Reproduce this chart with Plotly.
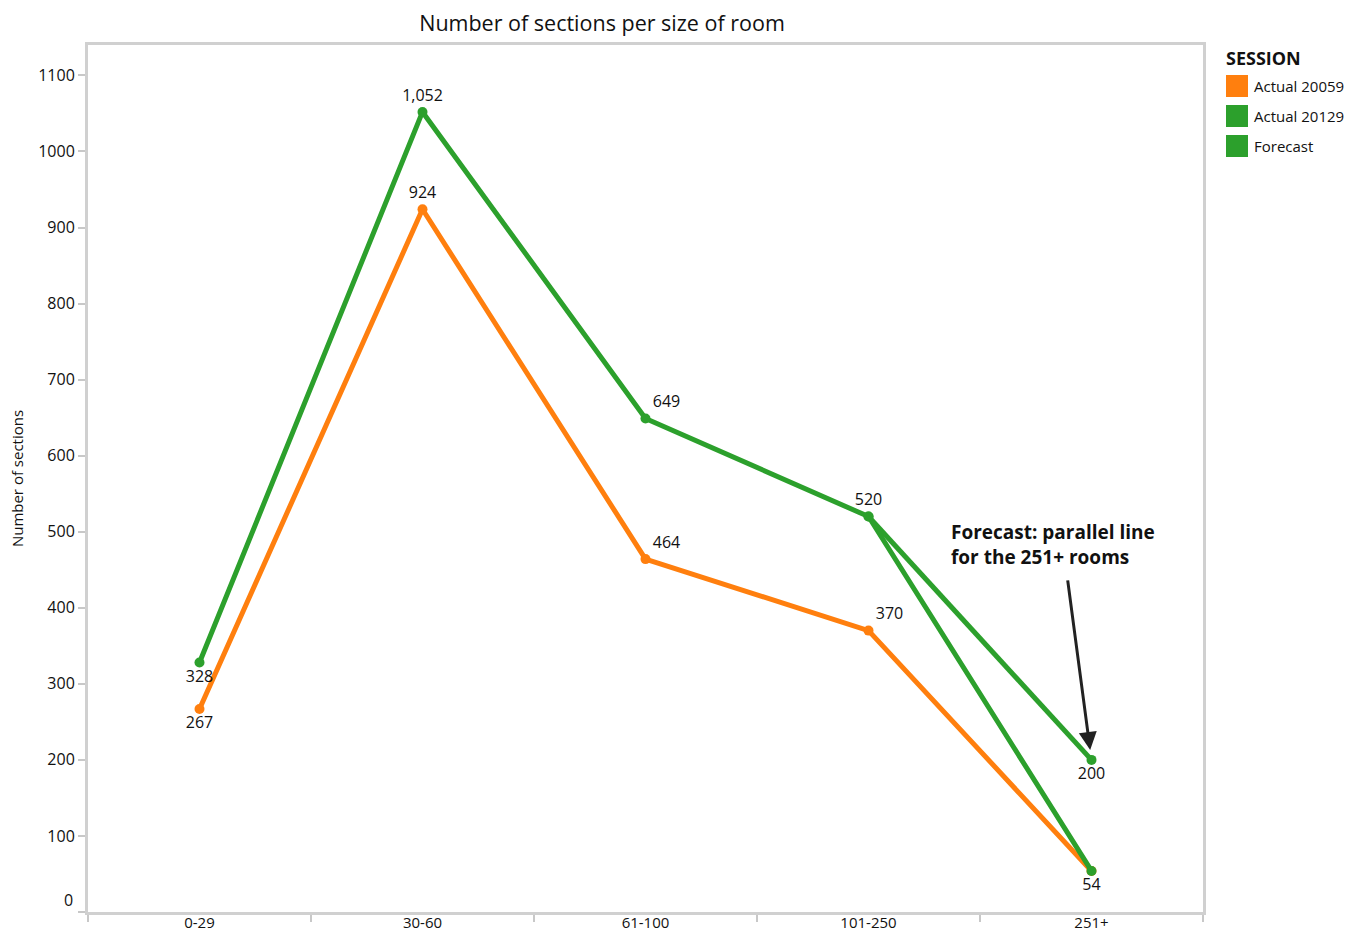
import plotly.graph_objects as go

# Room-size buckets and section counts per session
categories = ["0-29", "30-60", "61-100", "101-250", "251+"]
actual_20059 = [267, 924, 464, 370, 54]
actual_20129 = [328, 1052, 649, 520, 54]
forecast_categories = ["101-250", "251+"]
forecast_values = [520, 200]

y_ticks = list(range(0, 1101, 100))
legend_names = ["Actual 20059", "Actual 20129", "Forecast"]

ORANGE = "#ff7f0e"
GREEN = "#2ca02c"
legend_colors = [ORANGE, GREEN, GREEN]
FONT = "Open Sans, Noto Sans, sans-serif"

W, H = 1346, 934
ML, MR, MT, MB = 88, 143, 45, 22
PW, PH = W - ML - MR, H - MT - MB


def px(x):
    # pixel column -> paper x
    return (x - ML) / PW


def py(y):
    # pixel row -> paper y
    return (H - MB - y) / PH


def fmt(v):
    return f"{v:,}"


fig = go.Figure()

# Actual 20059 (orange)
fig.add_trace(go.Scatter(
    x=categories, y=actual_20059, mode="lines+markers+text",
    line=dict(color=ORANGE, width=5), marker=dict(color=ORANGE, size=10),
    text=[fmt(v) if i < 4 else "" for i, v in enumerate(actual_20059)],
    textposition=["bottom center", "top center", "top right", "top right", "bottom center"],
    textfont=dict(size=16, color="#111"), showlegend=False, hoverinfo="x+y",
))

# Forecast (green) from 101-250 to 251+
fig.add_trace(go.Scatter(
    x=forecast_categories, y=forecast_values, mode="lines+markers+text",
    line=dict(color=GREEN, width=5), marker=dict(color=GREEN, size=10),
    text=["", fmt(forecast_values[1])],
    textposition="bottom center",
    textfont=dict(size=16, color="#111"), showlegend=False, hoverinfo="x+y",
))

# Actual 20129 (green)
fig.add_trace(go.Scatter(
    x=categories, y=actual_20129, mode="lines+markers+text",
    line=dict(color=GREEN, width=5), marker=dict(color=GREEN, size=10),
    text=[fmt(v) for v in actual_20129],
    textposition=["bottom center", "top center", "top right", "top center", "bottom center"],
    textfont=dict(size=16, color="#111"), showlegend=False, hoverinfo="x+y",
))

# Session legend: title plus square swatches
fig.add_annotation(
    x=px(1224), y=py(58), xref="paper", yref="paper",
    xanchor="left", yanchor="middle", showarrow=False,
    text="<b>SESSION</b>", font=dict(size=18, color="#111"),
)
for i, (name, color) in enumerate(zip(legend_names, legend_colors)):
    cy = 86 + 30 * i
    fig.add_shape(
        type="rect", xref="paper", yref="paper",
        x0=px(1226), x1=px(1248), y0=py(cy - 11), y1=py(cy + 11),
        fillcolor=color, line=dict(width=0),
    )
    fig.add_annotation(
        x=px(1252), y=py(cy), xref="paper", yref="paper",
        xanchor="left", yanchor="middle", showarrow=False,
        text=name, font=dict(size=15, color="#111"),
    )

# The zero label sits just above the bottom frame
fig.add_annotation(
    x=0, y=y_ticks[0], xref="paper", yref="y", xanchor="right", yanchor="middle",
    xshift=-13, yshift=12, showarrow=False, text=str(y_ticks[0]),
    font=dict(size=16, color="#111"),
)

# Callout for the forecast point
fig.add_annotation(
    x=4, y=forecast_values[1], xref="x", yref="y",
    ax=-24, ay=-181, axref="pixel", ayref="pixel",
    text="", showarrow=True, arrowhead=2, arrowsize=1.2, arrowwidth=3,
    arrowcolor="#222", standoff=10,
)
fig.add_annotation(
    x=3.36, y=483, xref="x", yref="y", xanchor="left", yanchor="middle",
    text="<b>Forecast: parallel line<br>for the 251+ rooms</b>",
    showarrow=False, align="left",
    font=dict(size=19, color="#111", family=FONT),
)

fig.update_layout(
    width=W, height=H,
    paper_bgcolor="white", plot_bgcolor="white",
    font=dict(family=FONT, color="#111", size=16),
    margin=dict(l=ML, r=MR, t=MT, b=MB, autoexpand=False),
    showlegend=False,
    title=dict(text="Number of sections per size of room", x=602 / W, xanchor="center",
               y=1 - 23 / H, yanchor="middle", font=dict(size=21.5, color="#111")),
    xaxis=dict(
        type="category", range=[-0.5, 4.5], tickson="boundaries", automargin=False,
        showline=True, linecolor="#d0d0d0", linewidth=3, mirror=True,
        ticks="outside", ticklen=7, tickcolor="#c8c8c8", tickwidth=2,
        ticklabelstandoff=-5,
        showgrid=False, zeroline=False, tickfont=dict(size=15),
    ),
    yaxis=dict(
        range=[0, 1140], tickvals=y_ticks,
        ticktext=[""] + [str(v) for v in y_ticks[1:]], automargin=False,
        title=dict(text="Number of sections", font=dict(size=15), standoff=11),
        showline=True, linecolor="#d0d0d0", linewidth=3, mirror=True,
        ticks="outside", ticklen=7, tickcolor="#c8c8c8", tickwidth=2,
        showgrid=False, zeroline=False, tickfont=dict(size=16),
    ),
)

fig.write_html("out.html")
